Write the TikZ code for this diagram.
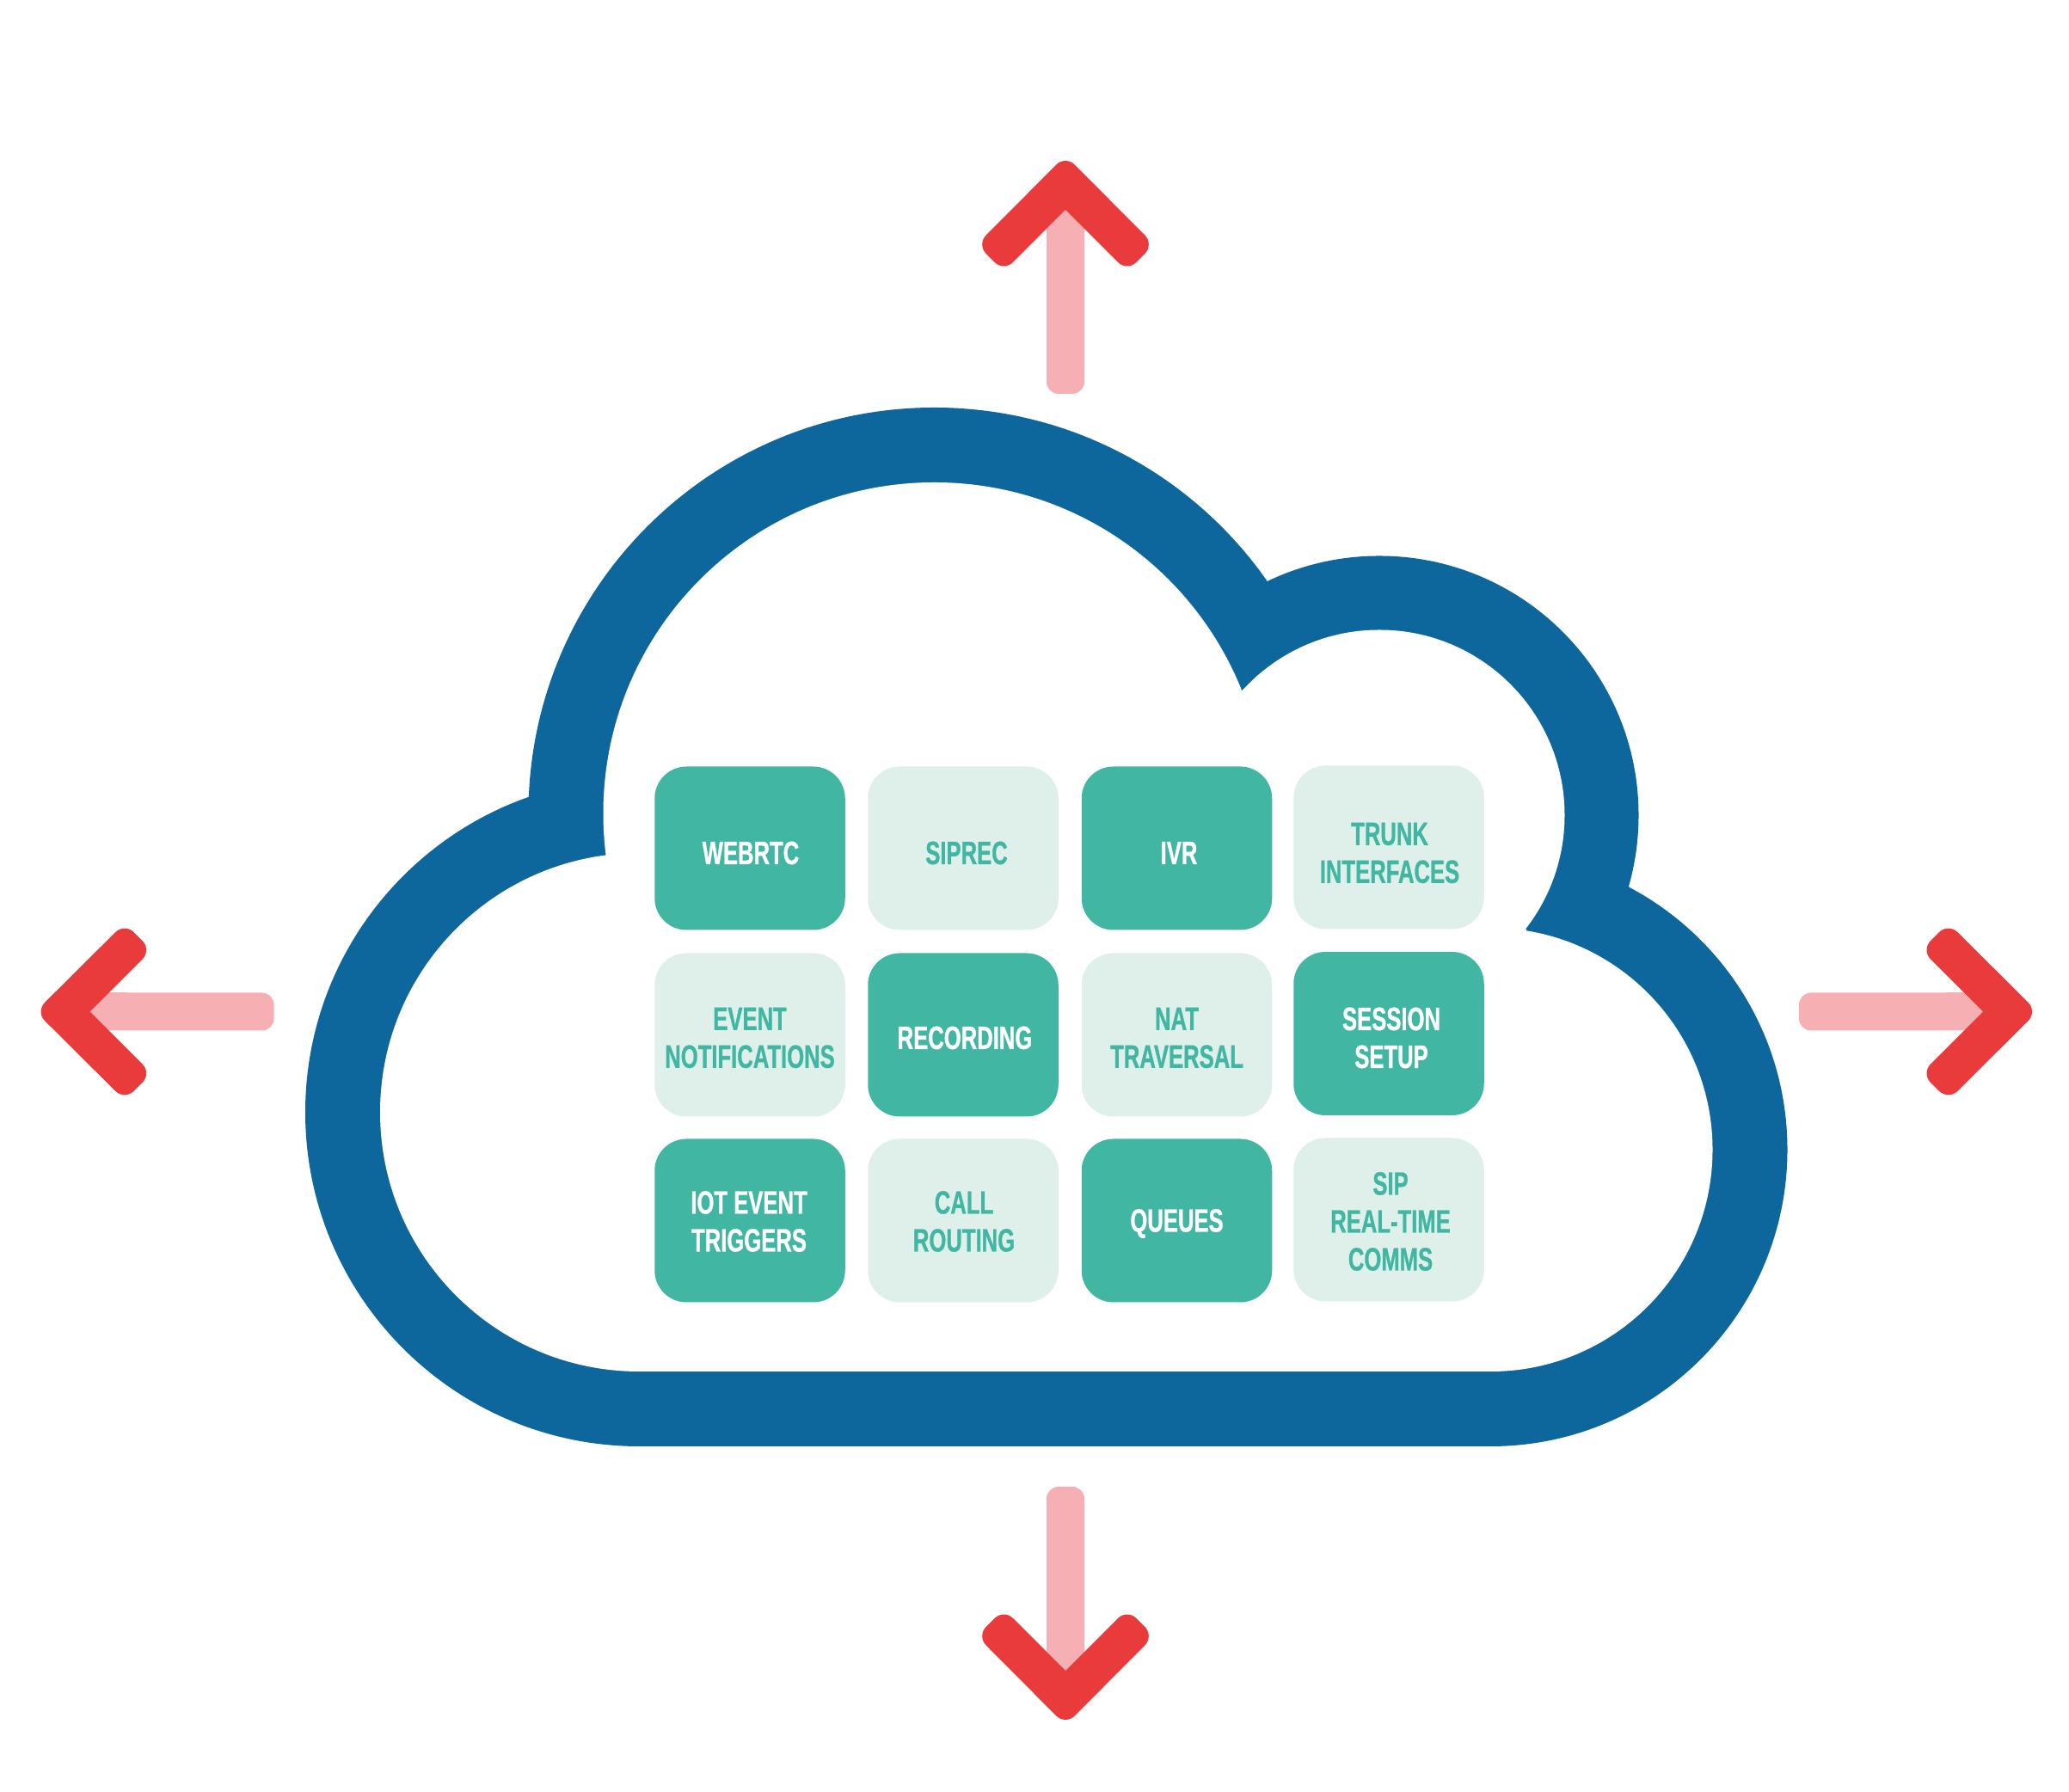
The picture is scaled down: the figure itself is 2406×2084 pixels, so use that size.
\documentclass[tikz,border=0pt]{standalone}
\usepackage{fontspec}
\newfontfamily\tilefont[FakeStretch=0.68,BoldFeatures={FakeBold=0.8}]{Liberation Sans}
\definecolor{cloudblue}{HTML}{0D669C}
\definecolor{tealdark}{HTML}{41B7A3}
\definecolor{tealpale}{HTML}{DFF0EA}
\definecolor{arrowred}{HTML}{EA3B3C}
\definecolor{arrowpink}{HTML}{F6B0B3}
\tikzset{
  tilebase/.style={rectangle,rounded corners=37pt,minimum width=221.5pt,minimum height=190pt,inner sep=0pt,draw=none},
  tiledark/.style={tilebase,fill=tealdark},
  tilepale/.style={tilebase,fill=tealpale},
  labelbase/.style={inner sep=0pt,align=center,font=\tilefont\bfseries\fontsize{37.7}{44}\selectfont},
  labellight/.style={labelbase,text=white},
  labelteal/.style={labelbase,text=tealdark},
}
\newcommand{\flowarrow}[3]{%
  \begin{scope}[shift={(#1,2084-#2)},rotate=#3]
    \fill[arrowpink,rounded corners=14pt] (-22,-50) -- (-22,-271) -- (22,-271) -- (22,-50) -- cycle;
    \fill[arrowpink] (-22,-100) rectangle (22,-50);
    \fill[arrowred] (0,-57) [rounded corners=15pt] -- (-71.7,-128.7) -- (-103,-97.3) -- (0,6.2) -- (103,-97.3) -- (71.7,-128.7) [sharp corners] -- cycle;
  \end{scope}}
\begin{document}
\begin{tikzpicture}[x=1pt,y=1pt]
\useasboundingbox (0,0) rectangle (2406,2084);
% cloud outer
\fill[cloudblue] (1086.5,2084-946) circle[radius=472pt];
\fill[cloudblue] (1604,2084-948) circle[radius=301.5pt];
\fill[cloudblue] (1733.5,2084-1337) circle[radius=345pt];
\fill[cloudblue] (743.5,2084-1293.5) circle[radius=388.5pt];
\fill[cloudblue] (743.5,2084-1293.5) -- (1086.5,2084-946) -- (1475,2084-676) -- (1604,2084-948) -- (1895,2084-1032) -- (1733.5,2084-1337) -- (1733.5,2084-1682) -- (743.5,2084-1682) -- cycle;
% cloud inner
\fill[white] (1086.5,2084-946) circle[radius=385pt];
\fill[white] (1604,2084-948) circle[radius=215.5pt];
\fill[white] (1733.5,2084-1337) circle[radius=258pt];
\fill[white] (743.5,2084-1293.5) circle[radius=301.5pt];
\fill[white] (743.5,2084-1293.5) -- (1086.5,2084-946) -- (1447,2084-802) -- (1604,2084-948) -- (1775,2084-1081) -- (1733.5,2084-1337) -- (1733.5,2084-1595) -- (743.5,2084-1595) -- cycle;
% tiles
\node[tiledark] (webrtc) at (872,2084-986.5) {};
\node[tilepale] (siprec) at (1120,2084-986.5) {};
\node[tiledark] (ivr) at (1368.5,2084-986.5) {};
\node[tilepale] (trunk) at (1615,2084-985.5) {};
\node[tilepale] (event) at (872,2084-1203.5) {};
\node[tiledark] (recording) at (1120,2084-1203.5) {};
\node[tilepale] (nat) at (1368.5,2084-1203.5) {};
\node[tiledark] (session) at (1615,2084-1202) {};
\node[tiledark] (iot) at (872,2084-1419.5) {};
\node[tilepale] (call) at (1120,2084-1419.5) {};
\node[tiledark] (queues) at (1368.5,2084-1419.5) {};
\node[tilepale] (sip) at (1615,2084-1418.5) {};
% labels
\node[labellight] (webrtcL) at (873,2084-992) {WEBRTC};
\node[labelteal] (siprecL) at (1124,2084-992) {SIPREC};
\node[labellight] (ivrL) at (1371,2084-992) {IVR};
\node[labelteal] (trunkL) at (1616,2084-992) {TRUNK\\INTERFACES};
\node[labelteal] (eventL) at (872,2084-1207) {EVENT\\NOTIFICATIONS};
\node[labellight] (recordingL) at (1122,2084-1207) {RECORDING};
\node[labelteal] (natL) at (1368.5,2084-1207) {NAT\\TRAVERSAL};
\node[labellight] (sessionL) at (1618,2084-1207) {SESSION\\SETUP};
\node[labellight] (iotL) at (871,2084-1420.5) {IOT EVENT\\TRIGGERS};
\node[labelteal] (callL) at (1121,2084-1420.5) {CALL\\ROUTING};
\node[labellight] (queuesL) at (1368.5,2084-1423) {QUEUES};
\node[labelteal] (sipL) at (1617,2084-1420.5) {SIP\\REAL-TIME\\COMMS};
% arrows
\flowarrow{1239}{187}{0}
\flowarrow{1239}{2000}{180}
\flowarrow{47.6}{1176.5}{90}
\flowarrow{2363}{1176.5}{-90}
\end{tikzpicture}
\end{document}
